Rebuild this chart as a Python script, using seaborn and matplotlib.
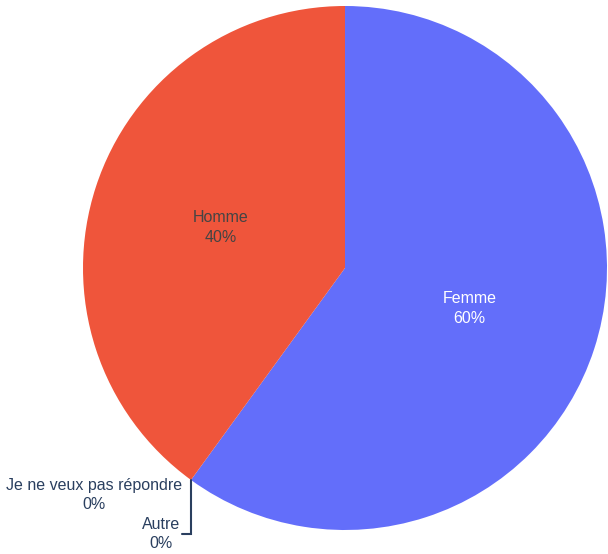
import numpy as np
import matplotlib
matplotlib.use("Agg")
import matplotlib.pyplot as plt
import seaborn as sns

categories = ["Femme", "Je ne veux pas répondre", "Autre", "Homme"]
values = [60, 0, 0, 40]
pct_labels = ["60%", "0%", "0%", "40%"]
colors = ["#636efa", "#00cc96", "#ab63fa", "#EF553B"]
text_colors = ["white", "#2a3f5f", "#2a3f5f", "#444444"]

sns.set_theme(style="white")
plt.rcParams['font.family'] = ['Liberation Sans', 'DejaVu Sans']

W, H = 608, 554
fig = plt.figure(figsize=(W / 100, H / 100), dpi=100)
ax = fig.add_axes([0, 0, 1, 1])
ax.set_xlim(0, W)
ax.set_ylim(0, H)
ax.axis("off")

cx, cy, R = 345, H - 268, 262
wedges, _ = ax.pie(values, colors=colors, startangle=90, counterclock=False,
                   center=(cx, cy), radius=R, frame=True,
                   wedgeprops=dict(linewidth=0, edgecolor="none"))
ax.set_xlim(0, W)
ax.set_ylim(0, H)
ax.axis("off")

fs = 11.5
line_col = "#2a3f5f"
for w, cat, pct, tc, v in zip(wedges, categories, pct_labels, text_colors, values):
    if v > 0:
        mid = np.deg2rad((w.theta1 + w.theta2) / 2)
        x = cx + 0.5 * R * np.cos(mid)
        y = cy + 0.5 * R * np.sin(mid)
        ax.text(x, y, f"{cat}\n{pct}", ha="center", va="center", color=tc,
                fontsize=fs, linespacing=1.35)

# zero-value slices: outside labels with leader line
zero = [w for w, v in zip(wedges, values) if v == 0]
ang = np.deg2rad(zero[0].theta1)
px = cx + R * np.cos(ang)
py = cy + R * np.sin(ang)
ax.text(px - 9, py - 15, f"{categories[1]}\n{pct_labels[1]}", ha="right", va="center",
        multialignment="center", color=line_col, fontsize=fs, linespacing=1.35)
ax.plot([px, px, px - 9], [py, py - 54, py - 54], color=line_col, lw=1.5,
        solid_joinstyle="miter")
ax.text(px - 11, py - 54, f"{categories[2]}\n{pct_labels[2]}", ha="right", va="center",
        multialignment="center", color=line_col, fontsize=fs, linespacing=1.35)

fig.savefig("out.png", dpi=100, facecolor="white")
